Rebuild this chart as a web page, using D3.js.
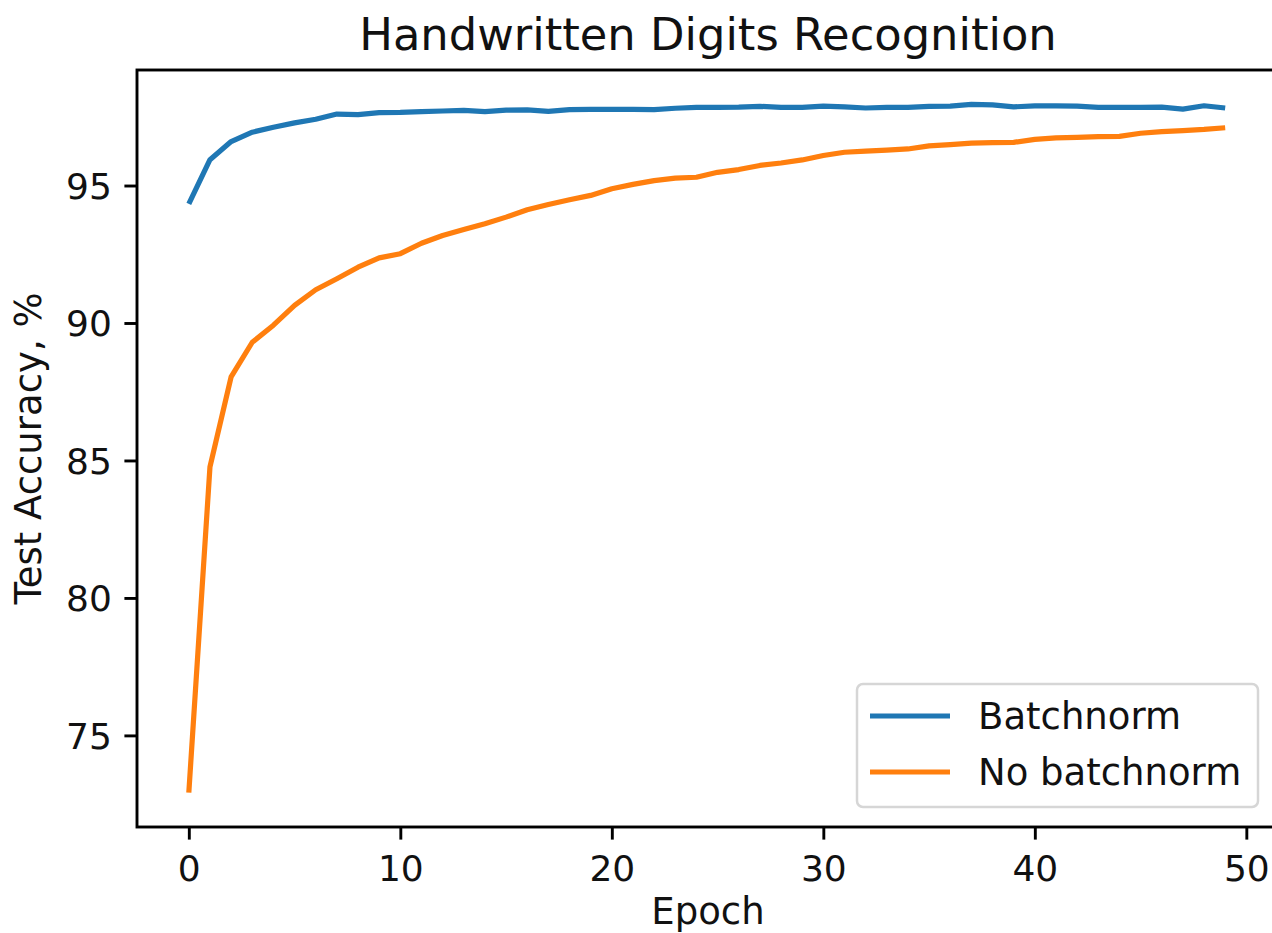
<!DOCTYPE html>
<html>
<head>
<meta charset="utf-8">
<script src="https://cdn.jsdelivr.net/npm/d3@7"></script>
<style>
  html, body { margin: 0; padding: 0; background: #fff; }
  svg { display: block; font-family: "DejaVu Sans", sans-serif; }
</style>
</head>
<body>
<svg id="chart" width="1272" height="933"></svg>
<script>
const title = "Handwritten Digits Recognition";
const xLabel = "Epoch";
const yLabel = "Test Accuracy, %";
const seriesNames = ["Batchnorm", "No batchnorm"];
const seriesColors = ["#1f77b4", "#ff7f0e"];
const xTicks = [0, 10, 20, 30, 40, 50];
const yTicks = [75, 80, 85, 90, 95];

// test accuracy per epoch
const batchnorm = [94.33, 95.94, 96.6, 96.94, 97.12, 97.28, 97.41, 97.6, 97.58, 97.65,
  97.66, 97.69, 97.71, 97.73, 97.69, 97.74, 97.75, 97.7, 97.76, 97.77,
  97.77, 97.77, 97.76, 97.81, 97.84, 97.84, 97.85, 97.88, 97.84, 97.84,
  97.89, 97.86, 97.82, 97.84, 97.84, 97.88, 97.89, 97.95, 97.93, 97.86,
  97.9, 97.9, 97.89, 97.84, 97.84, 97.84, 97.85, 97.78, 97.9, 97.82];
const noBatchnorm = [72.92, 84.77, 88.04, 89.3, 89.92, 90.64, 91.21, 91.61, 92.03, 92.37,
  92.52, 92.9, 93.18, 93.4, 93.61, 93.85, 94.12, 94.31, 94.48, 94.64,
  94.88, 95.04, 95.18, 95.27, 95.3, 95.48, 95.58, 95.73, 95.82, 95.93,
  96.09, 96.21, 96.25, 96.29, 96.33, 96.44, 96.49, 96.54, 96.56, 96.57,
  96.68, 96.73, 96.75, 96.78, 96.79, 96.9, 96.96, 97.0, 97.04, 97.1];

const series = [batchnorm, noBatchnorm].map((vals, i) => ({
  name: seriesNames[i],
  color: seriesColors[i],
  values: vals.map((v, e) => ({ epoch: e, acc: v }))
}));

let svg = d3.select("#chart");

let plot = { left: 137, right: 1277, top: 70, bottom: 827 };
let fontSize = 36;
let labelSize = 37;
let tickLen = 12.6;

// matplotlib style 5% margins
let pad = (ext) => { let d = (ext[1] - ext[0]) * 0.05; return [ext[0] - d, ext[1] + d]; };
let allVals = batchnorm.concat(noBatchnorm);

let x = d3.scaleLinear()
  .domain(pad([0, batchnorm.length - 1]))
  .range([plot.left, plot.right]);

let y = d3.scaleLinear()
  .domain(pad(d3.extent(allVals)))
  .range([plot.bottom, plot.top]);

// Assi
let xAxis = svg.append("g")
  .attr("transform", `translate(0,${plot.bottom})`)
  .call(d3.axisBottom(x).tickValues(xTicks).tickFormat(d3.format("d"))
    .tickSize(tickLen).tickSizeOuter(0).tickPadding(tickLen));

let yAxis = svg.append("g")
  .attr("transform", `translate(${plot.left},0)`)
  .call(d3.axisLeft(y).tickValues(yTicks).tickFormat(d3.format("d"))
    .tickSize(tickLen).tickSizeOuter(0).tickPadding(tickLen));

svg.selectAll(".domain").remove();
svg.selectAll(".tick line").attr("stroke", "#000").attr("stroke-width", 2.9);
svg.selectAll(".tick text")
  .attr("fill", "#111")
  .style("font-size", fontSize + "px")
  .style("font-family", "DejaVu Sans");
xAxis.selectAll(".tick text").attr("dy", "0.8em");
yAxis.selectAll(".tick text").attr("dy", "0.36em");

// lines
let line = d3.line().x(d => x(d.epoch)).y(d => y(d.acc));

svg.append("g")
  .selectAll("path")
  .data(series)
  .enter()
  .append("path")
  .attr("d", d => line(d.values))
  .attr("fill", "none")
  .attr("stroke", d => d.color)
  .attr("stroke-width", 5.2)
  .attr("stroke-linejoin", "round")
  .attr("stroke-linecap", "butt");

// spines
svg.append("rect")
  .attr("x", plot.left)
  .attr("y", plot.top)
  .attr("width", plot.right - plot.left)
  .attr("height", plot.bottom - plot.top)
  .attr("fill", "none")
  .attr("stroke", "#000")
  .attr("stroke-width", 2.9);

// title and labels
svg.append("text")
  .attr("x", 708)
  .attr("y", 50)
  .attr("text-anchor", "middle")
  .attr("fill", "#111")
  .style("font-size", "44.8px")
  .text(title);

svg.append("text")
  .attr("x", 708)
  .attr("y", 924)
  .attr("text-anchor", "middle")
  .attr("fill", "#111")
  .style("font-size", labelSize + "px")
  .text(xLabel);

svg.append("text")
  .attr("transform", `translate(41,${(plot.top + plot.bottom) / 2}) rotate(-90)`)
  .attr("text-anchor", "middle")
  .attr("fill", "#111")
  .style("font-size", labelSize + "px")
  .text(yLabel);

// legend
let legend = svg.append("g").attr("transform", "translate(857,684)");

legend.append("rect")
  .attr("width", 401)
  .attr("height", 123)
  .attr("rx", 6)
  .attr("fill", "#fff")
  .attr("fill-opacity", 0.8)
  .attr("stroke", "#d6d6d6")
  .attr("stroke-width", 2.5);

let items = legend.selectAll("g.item")
  .data(series)
  .enter()
  .append("g")
  .attr("transform", (d, i) => `translate(0,${32 + i * 56})`);

items.append("line")
  .attr("x1", 13).attr("x2", 93)
  .attr("stroke", d => d.color)
  .attr("stroke-width", 5.2);

items.append("text")
  .attr("x", 121)
  .attr("y", 13)
  .attr("fill", "#111")
  .style("font-size", labelSize + "px")
  .text(d => d.name);
</script>
</body>
</html>
